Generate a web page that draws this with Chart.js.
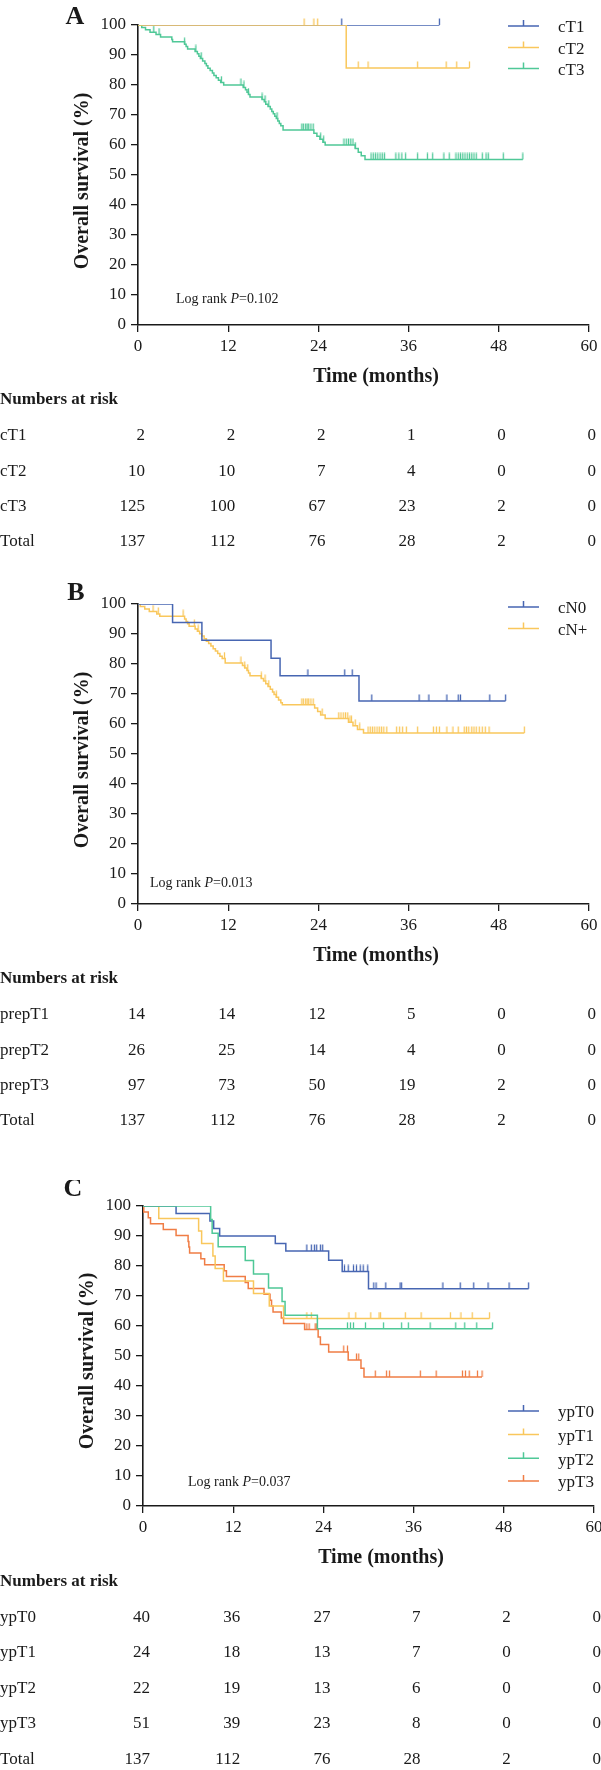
<!DOCTYPE html>
<html>
<head>
<meta charset="utf-8">
<script src="https://cdn.jsdelivr.net/npm/chart.js@4.4.1/dist/chart.umd.min.js"></script>
<style>
  body { margin: 0; background: #fff; }
  .panel { position: absolute; left: 0; width: 601px; }
</style>
</head>
<body>
<div class="panel" style="top:0"><canvas id="chartA" width="601" height="579"></canvas></div>
<div class="panel" style="top:579px"><canvas id="chartB" width="601" height="601"></canvas></div>
<div class="panel" style="top:1180px"><canvas id="chartC" width="601" height="590"></canvas></div>
<script>
// index.html - three Kaplan-Meier panels with numbers at risk

const timeTicks = [0, 12, 24, 36, 48, 60];
const survTicks = [0, 10, 20, 30, 40, 50, 60, 70, 80, 90, 100];

// ---- panel A : clinical T stage ----
const groupsA = ['cT1', 'cT2', 'cT3'];
const cT1Times = [];
const cT1Surv = [];
const cT1Censor = [27.1, 40.1];
const cT1Last = 40.1;

const cT2Times = [27.7];
const cT2Surv = [85.7];
const cT2Censor = [22.1, 23.4, 23.9, 29.3, 30.6, 37.2, 41.0, 42.4, 44.1];
const cT2Last = 44.1;

const cT3Times = [0.5, 1.0, 1.6, 2.4, 3.0, 4.5, 4.6, 6.2, 6.4, 6.6, 7.6, 7.9, 8.1, 8.3, 8.6, 8.9, 9.1, 9.3, 9.6, 9.9,
  10.1, 10.4, 10.7, 11.0, 11.4, 14.0, 14.3, 14.5, 14.7, 14.9, 16.5, 16.8, 17.0, 17.3, 17.6, 17.8, 18.0, 18.2, 18.4, 18.6,
  18.8, 19.0, 19.3, 23.4, 23.8, 24.2, 24.6, 24.9, 28.9, 29.3, 29.7, 30.2];
const cT3Surv = [99.2, 98.4, 97.6, 96.8, 96.0, 95.2, 94.4, 93.6, 92.8, 92.0, 91.2, 90.4, 89.6, 88.8, 88.0, 87.2, 86.4, 85.6, 84.8, 84.0,
  83.2, 82.4, 81.6, 80.8, 80.0, 79.2, 78.4, 77.6, 76.8, 76.0, 75.2, 74.4, 73.6, 72.8, 72.0, 71.2, 70.4, 69.6, 68.8, 68.0,
  67.2, 66.4, 65.0, 63.9, 62.9, 61.9, 60.9, 60.0, 58.8, 57.6, 56.4, 55.2];
const cT3Censor = [2.1, 2.8, 6.2, 7.7, 8.4, 11.1, 13.7, 14.1, 14.7, 16.5, 16.9, 17.4, 18.5, 21.8, 22.0, 22.3, 22.5, 22.7, 23.0, 23.3,
  24.3, 24.7, 27.4, 27.7, 28.0, 28.3, 28.6, 28.9, 31.0, 31.3, 31.6, 31.9, 32.2, 32.5, 32.8, 34.3, 34.7, 35.1, 35.6, 37.2,
  38.5, 39.2, 40.7, 41.4, 42.3, 42.6, 42.9, 43.2, 43.5, 43.8, 44.1, 44.4, 44.7, 45.0, 45.8, 46.3, 46.6, 48.6, 51.2];
const cT3Last = 51.2;

const riskLabelsA = ['cT1', 'cT2', 'cT3', 'Total'];
const riskCT1 = [2, 2, 2, 1, 0, 0];
const riskCT2 = [10, 10, 7, 4, 0, 0];
const riskCT3 = [125, 100, 67, 23, 2, 0];
const riskTotalA = [137, 112, 76, 28, 2, 0];

// ---- panel B : clinical N stage ----
const groupsB = ['cN0', 'cN+'];
const cN0Times = [4.6, 8.5, 17.7, 18.9, 29.4];
const cN0Surv = [93.8, 87.9, 81.9, 76.1, 67.7];
const cN0Censor = [22.6, 27.5, 28.5, 31.1, 37.4, 38.7, 41.1, 42.6, 42.9, 46.8, 48.9];
const cN0Last = 48.9;

const cNpTimes = [0.3, 0.9, 1.5, 2.5, 2.9, 6.2, 6.4, 6.6, 6.8, 7.6, 7.9, 8.2, 8.5, 8.8, 9.1, 9.4, 9.7, 10.0, 10.3, 10.6,
  10.9, 11.2, 11.6, 13.9, 14.2, 14.5, 14.7, 14.9, 16.4, 16.7, 17.0, 17.3, 17.6, 17.9, 18.1, 18.4, 18.7, 19.0, 19.2,
  23.5, 23.9, 24.3, 24.9, 28.0, 28.6, 29.2, 30.0];
const cNpSurv = [99.2, 98.3, 97.5, 96.7, 95.9, 95.0, 94.2, 93.4, 92.6, 91.7, 90.9, 90.1, 89.3, 88.4, 87.6, 86.8, 86.0, 85.1, 84.3, 83.5,
  82.6, 81.8, 80.3, 79.5, 78.7, 77.8, 77.0, 76.1, 75.2, 74.3, 73.4, 72.5, 71.6, 70.7, 69.8, 68.9, 68.0, 67.1, 66.4,
  65.3, 64.2, 63.0, 61.8, 60.6, 59.4, 58.2, 57.0];
const cNpCensor = [2.0, 2.7, 6.0, 7.5, 8.0, 11.5, 13.7, 14.2, 14.6, 16.4, 16.9, 17.4, 18.4, 21.8, 22.0, 22.3, 22.5, 22.7, 23.0, 23.3,
  24.5, 26.7, 27.0, 27.3, 27.6, 27.9, 28.2, 28.4, 28.9, 29.5, 30.6, 30.9, 31.2, 31.5, 31.8, 32.1, 32.4, 32.7, 33.1, 34.4,
  34.8, 35.2, 35.7, 37.2, 39.3, 39.7, 40.1, 41.1, 41.9, 42.6, 43.4, 43.7, 44.0, 44.4, 44.7, 45.0, 45.4, 45.8, 46.2, 46.7, 51.4];
const cNpLast = 51.4;

const riskLabelsB = ['prepT1', 'prepT2', 'prepT3', 'Total'];
const riskPrepT1 = [14, 14, 12, 5, 0, 0];
const riskPrepT2 = [26, 25, 14, 4, 0, 0];
const riskPrepT3 = [97, 73, 50, 19, 2, 0];
const riskTotalB = [137, 112, 76, 28, 2, 0];

// ---- panel C : pathological T stage ----
const groupsC = ['ypT0', 'ypT1', 'ypT2', 'ypT3'];
const ypT0Times = [4.4, 8.9, 9.4, 10.2, 17.6, 19.0, 24.7, 26.5, 30.0];
const ypT0Surv = [97.5, 95.0, 92.5, 90.0, 87.5, 85.0, 81.9, 78.2, 72.4];
const ypT0Censor = [21.8, 22.4, 22.8, 23.1, 23.6, 23.9, 26.8, 27.3, 28.0, 28.4, 28.9, 29.3, 29.9, 30.7, 31.0, 32.3, 34.2, 34.4,
  39.9, 42.2, 44.0, 45.9, 48.7, 51.3];
const ypT0Last = 51.3;

const ypT1Times = [2.1, 7.4, 7.8, 9.3, 9.6, 10.7, 14.7, 16.8, 18.7];
const ypT1Surv = [95.8, 91.7, 87.5, 83.3, 79.2, 75.0, 70.8, 66.7, 62.5];
const ypT1Censor = [21.8, 22.4, 27.4, 28.3, 30.3, 31.4, 31.6, 34.9, 37.0, 40.9, 42.3, 43.8, 46.1];
const ypT1Last = 46.1;

const ypT2Times = [9.0, 9.2, 10.0, 13.6, 14.7, 16.7, 18.5, 18.9, 23.2];
const ypT2Surv = [95.5, 90.9, 86.4, 81.8, 77.3, 72.7, 68.2, 63.6, 59.1];
const ypT2Censor = [27.2, 27.6, 28.0, 29.6, 32.0, 34.4, 35.3, 38.2, 41.6, 42.8, 44.4, 46.5];
const ypT2Last = 46.5;

const ypT3Times = [0.1, 0.7, 1.0, 2.7, 4.4, 6.0, 6.1, 6.2, 7.7, 8.2, 10.8, 11.1, 13.6, 14.0, 16.1, 16.9, 17.1, 17.3, 18.4, 18.7,
  21.5, 23.3, 23.6, 24.7, 27.3, 29.0, 29.4];
const ypT3Surv = [98.0, 96.1, 94.1, 92.2, 90.2, 88.2, 86.3, 84.3, 82.4, 80.4, 78.4, 76.5, 74.5, 72.5, 70.6, 68.6, 66.7, 64.7, 62.7, 60.8,
  58.8, 56.3, 53.8, 51.3, 48.7, 45.9, 43.0];
const ypT3Censor = [21.8, 22.1, 22.9, 23.1, 26.7, 27.2, 28.4, 28.7, 30.9, 32.4, 32.8, 36.9, 39.0, 42.5, 42.9, 43.4, 44.5, 45.1];
const ypT3Last = 45.1;

const riskLabelsC = ['ypT0', 'ypT1', 'ypT2', 'ypT3', 'Total'];
const riskYpT0 = [40, 36, 27, 7, 2, 0];
const riskYpT1 = [24, 18, 13, 7, 0, 0];
const riskYpT2 = [22, 19, 13, 6, 0, 0];
const riskYpT3 = [51, 39, 23, 8, 0, 0];
const riskTotalC = [137, 112, 76, 28, 2, 0];

// ---- styles ----
const SERIF = '"Liberation Serif", "Times New Roman", serif';
const INK = '#1a1a1a';
const BLUE = '#4766b2';
const YELLOW = '#f9c75c';
const GREEN = '#4fc897';
const ORANGE = '#f07d45';

Chart.defaults.font.family = SERIF;
Chart.defaults.color = INK;

function survAt(times, surv, t) {
  let s = 100;
  for (let i = 0; i < times.length; i++) {
    if (times[i] <= t) s = surv[i];
  }
  return s;
}

function curvePoints(times, surv, last) {
  const pts = [{x: 0, y: 100}];
  times.forEach((t, i) => pts.push({x: t, y: surv[i]}));
  pts.push({x: last, y: survAt(times, surv, last)});
  return pts;
}

// upward censor tick used as point image
function tickMark(color) {
  const c = document.createElement('canvas');
  c.width = 3;
  c.height = 14;
  const g = c.getContext('2d');
  g.strokeStyle = color;
  g.lineWidth = 1.3;
  g.beginPath();
  g.moveTo(1.5, 0.5);
  g.lineTo(1.5, 7);
  g.stroke();
  return c;
}

function makePanel(canvasId, series, riskLabels, riskRows, L) {
  const canvas = document.getElementById(canvasId);
  const H = canvas.height;
  const datasets = [];
  series.forEach(s => {
    datasets.push({
      label: s.label,
      data: curvePoints(s.times, s.surv, s.last),
      borderColor: s.color,
      borderWidth: 1.5,
      stepped: true,
      pointRadius: 0,
      fill: false,
      order: s.order
    });
    datasets.push({
      label: s.label + ' censored',
      data: s.cens.map(t => ({x: t, y: survAt(s.times, s.surv, t)})),
      showLine: false,
      pointStyle: tickMark(s.color),
      pointRadius: 3,
      clip: false,
      order: s.order
    });
  });

  const textPlugin = {
    id: 'kmText',
    afterDraw(chart) {
      const ctx = chart.ctx;
      const xs = chart.scales.x;
      ctx.save();
      ctx.fillStyle = INK;
      ctx.textBaseline = 'middle';

      // panel letter
      ctx.textAlign = 'center';
      ctx.font = 'bold 26px ' + SERIF;
      ctx.fillText(L.letter, L.letterX, L.letterY);

      // axis titles
      ctx.font = 'bold 20px ' + SERIF;
      ctx.fillText('Time (months)', L.left + 238, L.bottom + 52);
      ctx.save();
      ctx.translate(L.left - 55, 181);
      ctx.rotate(-Math.PI / 2);
      ctx.fillText('Overall survival (%)', 0, 0);
      ctx.restore();

      // log rank
      ctx.textAlign = 'left';
      let x = L.logX;
      [['Log rank ', ''], ['P', 'italic '], ['=' + L.pValue, '']].forEach(([t, st]) => {
        ctx.font = st + '14px ' + SERIF;
        ctx.fillText(t, x, L.logY);
        x += ctx.measureText(t).width;
      });

      // legend
      ctx.font = '17px ' + SERIF;
      series.forEach((s, i) => {
        const y = L.legendY[i];
        ctx.strokeStyle = s.color;
        ctx.lineWidth = 1.5;
        ctx.beginPath();
        ctx.moveTo(508, y);
        ctx.lineTo(539, y);
        ctx.moveTo(523.5, y);
        ctx.lineTo(523.5, y - 6);
        ctx.stroke();
        ctx.fillText(s.label, 558, y + 2);
      });

      // numbers at risk
      ctx.font = 'bold 17px ' + SERIF;
      ctx.fillText('Numbers at risk', 0, L.riskHead);
      ctx.font = '17px ' + SERIF;
      riskRows.forEach((row, r) => {
        const y = L.riskTop + r * L.riskGap;
        ctx.textAlign = 'left';
        ctx.fillText(riskLabels[r], 0, y);
        ctx.textAlign = 'right';
        row.forEach((v, i) => {
          ctx.fillText(String(v), xs.getPixelForValue(timeTicks[i]) + 7, y);
        });
      });
      ctx.restore();
    }
  };

  return new Chart(canvas, {
    type: 'line',
    data: {datasets: datasets},
    options: {
      responsive: false,
      animation: false,
      events: [],
      layout: {padding: {top: L.top, right: 601 - L.right, left: 0, bottom: 0}},
      plugins: {legend: {display: false}, tooltip: {enabled: false}},
      scales: {
        x: {
          type: 'linear',
          min: 0,
          max: 60,
          afterBuildTicks: s => { s.ticks = timeTicks.map(v => ({value: v})); },
          afterFit: s => { s.height = H - L.bottom; s.paddingLeft = 0; s.paddingRight = 0; },
          ticks: {font: {size: 17}, color: INK, padding: 4, maxRotation: 0, autoSkip: false},
          grid: {drawOnChartArea: false, drawTicks: true, tickLength: 7, color: INK, lineWidth: 1.3},
          border: {color: INK, width: 1.6}
        },
        y: {
          type: 'linear',
          min: 0,
          max: 100,
          afterBuildTicks: s => { s.ticks = survTicks.map(v => ({value: v})); },
          afterFit: s => { s.width = L.left; s.paddingTop = 0; s.paddingBottom = 0; },
          ticks: {font: {size: 17}, color: INK, padding: 5, autoSkip: false},
          grid: {drawOnChartArea: false, drawTicks: true, tickLength: 7, color: INK, lineWidth: 1.3},
          border: {color: INK, width: 1.6}
        }
      }
    },
    plugins: [textPlugin]
  });
}

makePanel('chartA', [
  {label: groupsA[0], times: cT1Times, surv: cT1Surv, last: cT1Last, cens: cT1Censor, color: BLUE, order: 2},
  {label: groupsA[1], times: cT2Times, surv: cT2Surv, last: cT2Last, cens: cT2Censor, color: YELLOW, order: 0},
  {label: groupsA[2], times: cT3Times, surv: cT3Surv, last: cT3Last, cens: cT3Censor, color: GREEN, order: 1}
], riskLabelsA, [riskCT1, riskCT2, riskCT3, riskTotalA], {
  top: 25, bottom: 325, left: 138, right: 589,
  letter: 'A', letterX: 75, letterY: 17,
  logX: 176, logY: 299, pValue: '0.102',
  legendY: [26, 47.5, 68.5],
  riskHead: 400, riskTop: 436, riskGap: 35.3
});

makePanel('chartB', [
  {label: groupsB[0], times: cN0Times, surv: cN0Surv, last: cN0Last, cens: cN0Censor, color: BLUE, order: 0},
  {label: groupsB[1], times: cNpTimes, surv: cNpSurv, last: cNpLast, cens: cNpCensor, color: YELLOW, order: 1}
], riskLabelsB, [riskPrepT1, riskPrepT2, riskPrepT3, riskTotalB], {
  top: 25, bottom: 325, left: 138, right: 589,
  letter: 'B', letterX: 76, letterY: 14,
  logX: 150, logY: 304, pValue: '0.013',
  legendY: [28, 49.5],
  riskHead: 400, riskTop: 436, riskGap: 35.3
});

makePanel('chartC', [
  {label: groupsC[0], times: ypT0Times, surv: ypT0Surv, last: ypT0Last, cens: ypT0Censor, color: BLUE, order: 1},
  {label: groupsC[1], times: ypT1Times, surv: ypT1Surv, last: ypT1Last, cens: ypT1Censor, color: YELLOW, order: 2},
  {label: groupsC[2], times: ypT2Times, surv: ypT2Surv, last: ypT2Last, cens: ypT2Censor, color: GREEN, order: 0},
  {label: groupsC[3], times: ypT3Times, surv: ypT3Surv, last: ypT3Last, cens: ypT3Censor, color: ORANGE, order: 3}
], riskLabelsC, [riskYpT0, riskYpT1, riskYpT2, riskYpT3, riskTotalC], {
  top: 26, bottom: 326, left: 143, right: 594,
  letter: 'C', letterX: 73, letterY: 9,
  logX: 188, logY: 302, pValue: '0.037',
  legendY: [231, 254.5, 278.3, 301],
  riskHead: 402, riskTop: 437.5, riskGap: 35.5
});
</script>
</body>
</html>
